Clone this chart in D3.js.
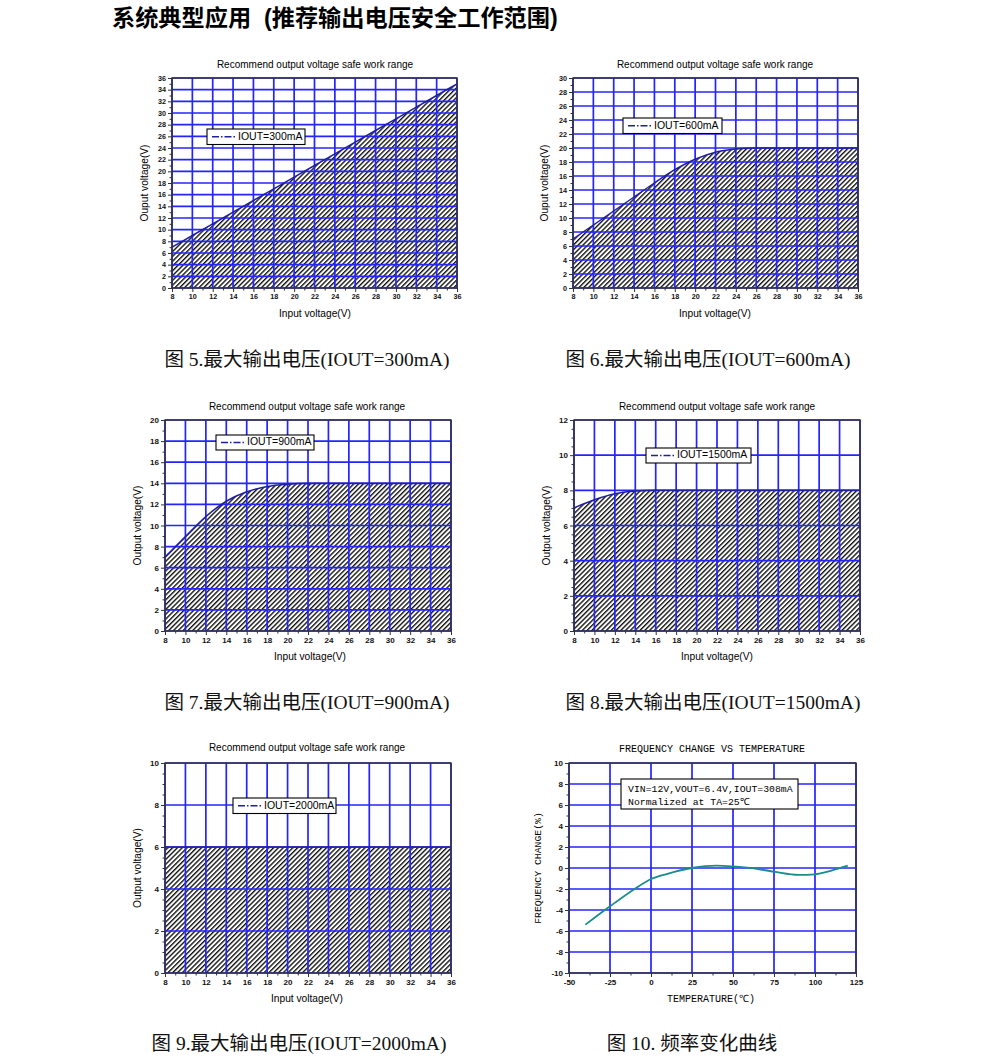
<!DOCTYPE html>
<html><head><meta charset="utf-8">
<script src="https://cdn.jsdelivr.net/npm/d3@7"></script>
<style>body{margin:0;background:#fff} svg{display:block}</style>
</head><body><svg id="c" width="991" height="1061"></svg>
<script>
// ---------------- data ----------------
const vin = [8,10,12,14,16,18,20,22,24,26,28,30,32,34,36];
const vout300  = [7,9,11,13,15,17,19,21,23,25,27,29,31,33,35];
const vout600  = [7,9,11,13,15,16.9,18.4,19.4,19.85,20,20,20,20,20,20];
const vout900  = [7,8.95,10.85,12.3,13.2,13.7,13.92,14,14,14,14,14,14,14,14];
const vout1500 = [7,7.46,7.8,7.96,8,8,8,8,8,8,8,8,8,8,8];
const vout2000 = [6,6,6,6,6,6,6,6,6,6,6,6,6,6,6];
const vinTicks = [8,10,12,14,16,18,20,22,24,26,28,30,32,34,36];

const temps = [-40,-25,-10,0,10,25,40,50,60,75,90,100,110,120];
const freqChange = [-5.4,-3.65,-2.0,-1.05,-0.55,0,0.22,0.15,0.02,-0.35,-0.65,-0.6,-0.25,0.22];
const tempTicks = [-50,-25,0,25,50,75,100,125];
const freqTicks = [-10,-8,-6,-4,-2,0,2,4,6,8,10];

const panelTitle = "Recommend output voltage safe work range";
const pageTitle = "系统典型应用  (推荐输出电压安全工作范围)";
const captions = ["图 5.最大输出电压(IOUT=300mA)","图 6.最大输出电压(IOUT=600mA)",
  "图 7.最大输出电压(IOUT=900mA)","图 8.最大输出电压(IOUT=1500mA)",
  "图 9.最大输出电压(IOUT=2000mA)","图 10. 频率变化曲线"];

// ---------------- drawing ----------------
const svg = d3.select("#c");
const defs = svg.append("defs");
const HS = 3.4;
const pat = defs.append("pattern").attr("id","hatch").attr("patternUnits","userSpaceOnUse")
  .attr("width",HS).attr("height",HS).attr("patternTransform","rotate(45)");
pat.append("rect").attr("width",HS).attr("height",HS).attr("fill","#fff");
pat.append("line").attr("x1",0.7).attr("y1",0).attr("x2",0.7).attr("y2",HS)
  .attr("stroke","#000").attr("stroke-width",1.3);

const SANS = "'Liberation Sans', Arial, sans-serif";
const MONO = "'Liberation Mono', 'Courier New', monospace";
const GRID = "#2424ff";
const CURVE = "#1f1fa0";

svg.append("text").attr("x",112).attr("y",26).attr("font-size",23.2).attr("font-weight","bold")
  .style("white-space","pre")
  .attr("font-family","'Liberation Sans', 'Noto Sans CJK SC', sans-serif").text(pageTitle);

function range(a,b,s){const r=[];for(let v=a;v<=b+1e-9;v+=s)r.push(+v.toFixed(4));return r;}
const fmt = d => String(d);

function grid(g, x, y, xMajor, yMajor){
  const [x0,x1] = x.range(), [y0,y1] = y.range();
  g.append("g").selectAll("line").data(xMajor).join("line")
    .attr("x1",d=>x(d)).attr("x2",d=>x(d)).attr("y1",y0).attr("y2",y1)
    .attr("stroke",GRID).attr("stroke-width",1.7);
  g.append("g").selectAll("line").data(yMajor).join("line")
    .attr("y1",d=>y(d)).attr("y2",d=>y(d)).attr("x1",x0).attr("x2",x1)
    .attr("stroke",GRID).attr("stroke-width",1.7);
}
function frame(g, x, y, xMajor, xMinor, yMajor, yMinor, fs, font){
  const [x0,x1] = x.range(), [y0,y1] = y.range();
  const xa = g.append("g").attr("transform",`translate(0,${y0})`)
    .call(d3.axisBottom(x).tickValues(xMajor).tickSize(4).tickSizeOuter(0).tickFormat(fmt));
  g.append("g").attr("transform",`translate(0,${y0})`)
    .call(d3.axisBottom(x).tickValues(xMinor).tickSize(2.5).tickSizeOuter(0).tickFormat(""));
  const ya = g.append("g").attr("transform",`translate(${x0},0)`)
    .call(d3.axisLeft(y).tickValues(yMajor).tickSize(4).tickSizeOuter(0).tickFormat(fmt));
  g.append("g").attr("transform",`translate(${x0},0)`)
    .call(d3.axisLeft(y).tickValues(yMinor).tickSize(2.5).tickSizeOuter(0).tickFormat(""));
  g.selectAll(".domain").remove();
  g.selectAll(".tick line").attr("stroke","#333").attr("stroke-width",1);
  [xa,ya].forEach(a=>a.selectAll("text").attr("font-size",fs).attr("font-family",font)
    .attr("font-weight","bold").attr("fill","#111"));
  xa.selectAll("text").attr("dy","0.75em").attr("y",6);
  ya.selectAll("text").attr("x",-6);
  g.append("rect").attr("x",x0).attr("y",y1).attr("width",x1-x0).attr("height",y0-y1)
    .attr("fill","none").attr("stroke","#333").attr("stroke-width",1.4);
}

const panels = [
  {vals:vout300, l:172,r:457,t:78,b:288, yMax:36, yMinor:1, fs:7.2, title:[315,65], xl:[315,314], yl:[145,"Ouput voltage(V)"], leg:[207,129,98,15.5,"IOUT=300mA"]},
  {vals:vout600, l:573,r:858,t:78,b:288, yMax:30, yMinor:1, fs:7.2, title:[715,65], xl:[715,314], yl:[545,"Ouput voltage(V)"], leg:[623,118,99,15.5,"IOUT=600mA"]},
  {vals:vout900, l:165,r:451,t:420,b:631, yMax:20, yMinor:1, fs:8, title:[307,407], xl:[310,657], yl:[138,"Output voltage(V)"], leg:[216,435,98,15,"IOUT=900mA"]},
  {vals:vout1500,l:574,r:860,t:420,b:631, yMax:12, yMinor:0.5, fs:8, title:[717,407], xl:[717,657], yl:[547,"Output voltage(V)"], leg:[646,448,105,15,"IOUT=1500mA"]},
  {vals:vout2000,l:165,r:451,t:763,b:973, yMax:10, yMinor:0.5, fs:8, title:[307,748], xl:[307,999], yl:[138,"Output voltage(V)"], leg:[233,798,103,15.5,"IOUT=2000mA"]}
];

panels.forEach(p=>{
  const g = svg.append("g");
  const x = d3.scaleLinear().domain([8,36]).range([p.l,p.r]);
  const y = d3.scaleLinear().domain([0,p.yMax]).range([p.b,p.t]);
  const data = vin.map((v,i)=>({x:v,y:p.vals[i]}));
  g.append("path").datum(data).attr("fill","url(#hatch)")
    .attr("d", d3.area().x(d=>x(d.x)).y0(y(0)).y1(d=>y(d.y)).curve(d3.curveMonotoneX));
  const yMajor = range(0,p.yMax,2), yMinor = range(0,p.yMax,p.yMinor).filter(v=>v%2!==0);
  const xMinor = range(8,36,1).filter(v=>v%2!==0);
  grid(g,x,y,vinTicks,yMajor);
  g.append("path").datum(data).attr("fill","none").attr("stroke",CURVE).attr("stroke-width",1.5)
    .attr("d", d3.line().x(d=>x(d.x)).y(d=>y(d.y)).curve(d3.curveMonotoneX));
  frame(g,x,y,vinTicks,xMinor,yMajor,yMinor,p.fs,SANS);
  g.append("text").attr("x",p.title[0]).attr("y",p.title[1]).attr("text-anchor","middle")
    .attr("dominant-baseline","middle").attr("font-size",10).attr("font-family",SANS).text(panelTitle);
  g.append("text").attr("x",p.xl[0]).attr("y",p.xl[1]).attr("text-anchor","middle")
    .attr("dominant-baseline","middle").attr("font-size",10.2).attr("font-family",SANS).text("Input voltage(V)");
  g.append("text").attr("transform",`translate(${p.yl[0]},${(p.t+p.b)/2}) rotate(-90)`).attr("text-anchor","middle")
    .attr("dominant-baseline","middle").attr("font-size",10.2).attr("font-family",SANS).text(p.yl[1]);
  const [lx,ly,lw,lh,lt] = p.leg;
  g.append("rect").attr("x",lx).attr("y",ly).attr("width",lw).attr("height",lh)
    .attr("fill","#fff").attr("stroke","#000").attr("stroke-width",1.1);
  g.append("line").attr("x1",lx+5).attr("x2",lx+29).attr("y1",ly+lh/2).attr("y2",ly+lh/2)
    .attr("stroke",CURVE).attr("stroke-width",1.3).attr("stroke-dasharray","7,2,1.5,2");
  g.append("text").attr("x",lx+31).attr("y",ly+lh/2).attr("dominant-baseline","middle")
    .attr("font-size",10.5).attr("font-family",SANS).text(lt);
});

// frequency panel
(function(){
  const g = svg.append("g");
  const x = d3.scaleLinear().domain([-50,125]).range([569,856]);
  const y = d3.scaleLinear().domain([-10,10]).range([973,763]);
  const xMinor = range(-50,125,12.5).filter(v=>tempTicks.indexOf(v)<0);
  const yMinor = range(-10,10,1).filter(v=>freqTicks.indexOf(v)<0);
  grid(g,x,y,tempTicks,freqTicks);
  const data = temps.map((t,i)=>({x:t,y:freqChange[i]}));
  g.append("path").datum(data).attr("fill","none").attr("stroke","#1a8c8c").attr("stroke-width",1.8)
    .attr("d", d3.line().x(d=>x(d.x)).y(d=>y(d.y)).curve(d3.curveMonotoneX));
  frame(g,x,y,tempTicks,xMinor,freqTicks,yMinor,8,SANS);
  g.append("text").attr("x",712).attr("y",749).attr("text-anchor","middle").attr("dominant-baseline","middle")
    .attr("font-size",10).attr("font-family",MONO).text("FREQUENCY CHANGE VS TEMPERATURE");
  g.append("text").attr("x",711).attr("y",999).attr("text-anchor","middle").attr("dominant-baseline","middle")
    .attr("font-size",10).attr("font-family",MONO).text("TEMPERATURE(℃)");
  g.append("text").attr("transform",`translate(538,868) rotate(-90)`).attr("text-anchor","middle")
    .attr("dominant-baseline","middle").attr("font-size",9.8).attr("font-family",MONO).text("FREQUENCY CHANGE(%)");
  g.append("rect").attr("x",621).attr("y",779).attr("width",177).attr("height",30)
    .attr("fill","#fff").attr("stroke","#000").attr("stroke-width",1.1);
  g.append("text").attr("x",628).attr("y",789.5).attr("dominant-baseline","middle")
    .attr("font-size",9.8).attr("font-family",MONO).text("VIN=12V,VOUT=6.4V,IOUT=308mA");
  g.append("text").attr("x",628).attr("y",802).attr("dominant-baseline","middle")
    .attr("font-size",9.8).attr("font-family",MONO).text("Normalized at TA=25℃");
})();

// captions
const capPos = [[307,362],[708,362],[307,705],[713,705],[299,1046],[692,1046]];
svg.selectAll("text.cap").data(captions).join("text").attr("class","cap")
  .attr("x",(d,i)=>capPos[i][0]).attr("y",(d,i)=>capPos[i][1]).attr("text-anchor","middle")
  .attr("dominant-baseline","middle").attr("font-size",19.5)
  .attr("font-family","'Liberation Serif', 'Noto Sans CJK SC', serif").attr("fill","#111").text(d=>d);
</script></body></html>
